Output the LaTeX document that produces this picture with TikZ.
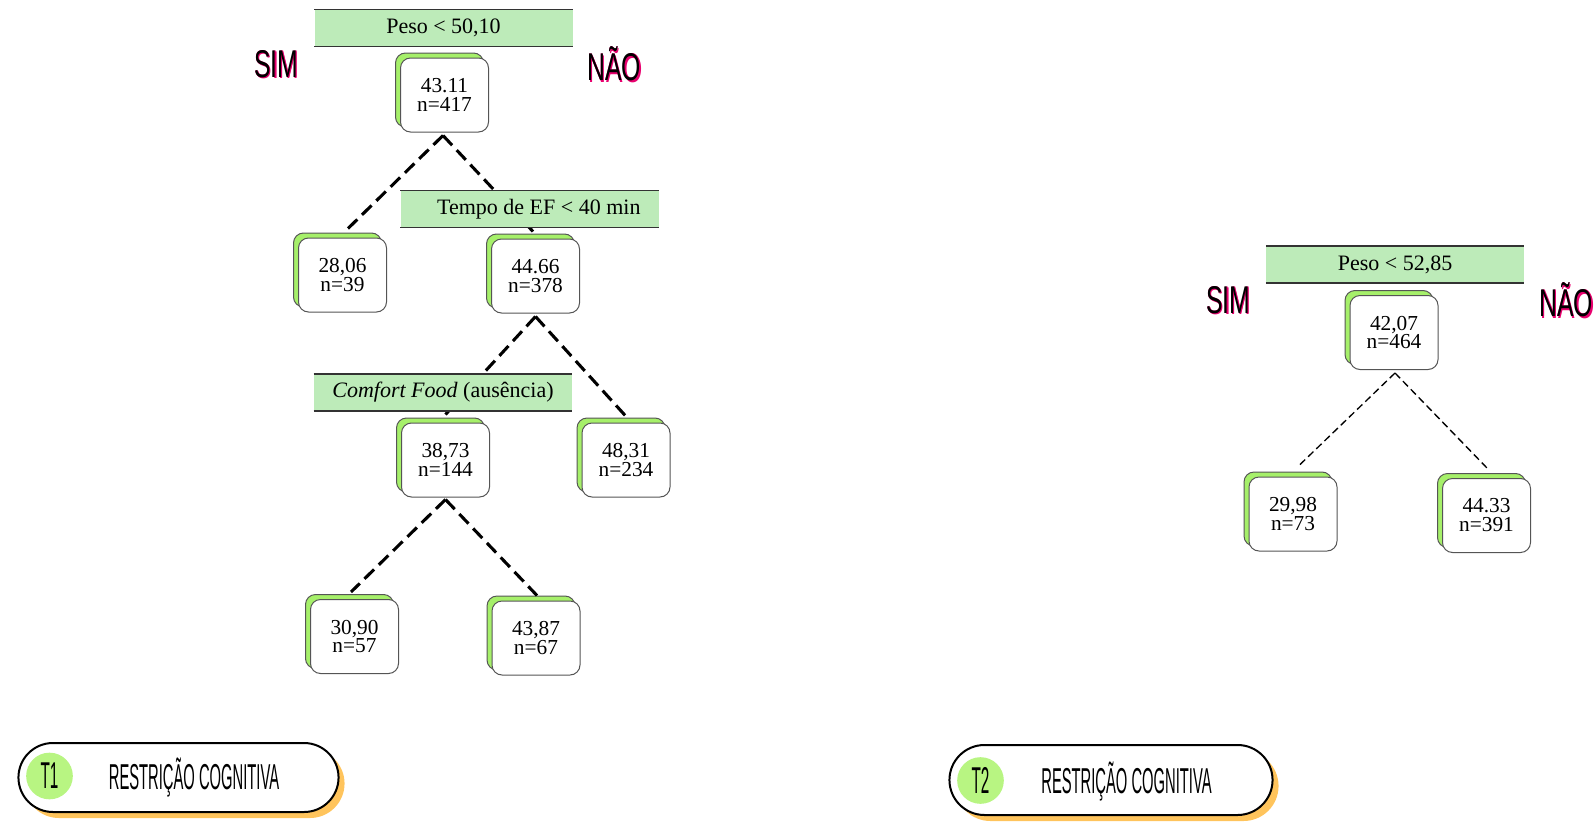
\documentclass[tikz,border=0pt]{standalone}
\usepackage{fontspec}
\setmainfont{Liberation Serif}
\newfontfamily\sealfont[FakeStretch=0.64]{Liberation Sans}
\newfontfamily\handfont[FakeStretch=0.41]{Liberation Sans}
\usetikzlibrary{shapes.misc,shadows,calc}

\definecolor{bandgreen}{HTML}{BDEBB9}
\definecolor{boxgreen}{HTML}{A6F06A}
\definecolor{dotgreen}{HTML}{B8F582}
\definecolor{pillshade}{HTML}{FFC45C}
\definecolor{boxedge}{HTML}{555555}
\definecolor{yespink}{HTML}{E8006E}

\tikzset{
  leaf/.style={draw=boxedge, line width=0.75pt, fill=white, rounded corners=7.5pt,
    minimum width=66pt, minimum height=55.5pt, align=center, inner sep=0pt,
    font=\fontsize{16}{14.2}\selectfont,
    general shadow={fill=boxgreen, draw=boxedge, line width=0.75pt,
      shadow xshift=-3.75pt, shadow yshift=3.75pt}},
  band/.style={fill=bandgreen, minimum width=193.5pt, minimum height=27.5pt,
    inner sep=0pt, font=\fontsize{16.5}{18}\selectfont},
  bandrule/.style={draw=black!80, line width=1.1pt},
  cut/.style={line width=2.3pt, dash pattern=on 10pt off 5pt},
  thincut/.style={line width=1pt, dash pattern=on 5.5pt off 3pt},
  side/.style={font=\sealfont\fontsize{29}{30}\selectfont, inner sep=0pt},
  pill/.style={shape=rounded rectangle, draw=black, line width=1.5pt, fill=white,
    general shadow={fill=pillshade, shadow xshift=4.5pt, shadow yshift=-4.5pt}},
  tag/.style={circle, fill=dotgreen, minimum size=35pt, inner sep=0pt,
    font=\handfont\fontsize{28}{30}\selectfont},
  caption/.style={font=\handfont\fontsize{27}{29}\selectfont, inner sep=0pt}
}

\newcommand{\sidelabel}[3]{%
  \node[side, text=yespink] at ($(#1)+(1.5,1.5)$) {#3};
  \node[side, text=yespink] at ($(#1)+(0.8,0)$) {#3};
  \node[side] (#2) at (#1) {#3};}

\begin{document}
\begin{tikzpicture}[x=0.75pt, y=-0.75pt]
\useasboundingbox (0,0) rectangle (1595,821);

% ---------- tree T1 ----------
\node[leaf] (A) at (444.5,95) {43.11\\n=417};
\node[leaf] (B) at (342.5,275) {28,06\\n=39};
\node[leaf] (C) at (535.5,276) {44.66\\n=378};
\node[leaf] (D) at (445.5,460) {38,73\\n=144};
\node[leaf] (E) at (626,460) {48,31\\n=234};
\node[leaf] (F) at (354.5,636.5) {30,90\\n=57};
\node[leaf] (G) at (536,638) {43,87\\n=67};

\draw[cut] ($(A.south)+(-1.5,3)$) -- ($(B.north)+(5.5,-9)$);
\draw[cut] ($(A.south)+(-1.5,3)$) -- ($(C.north)+(-2.5,-7)$);
\draw[cut] ($(C.south)+(0,3)$) -- ($(D.north)+(0,-8)$);
\draw[cut] ($(C.south)+(0,3)$) -- ($(E.north)+(1,-5)$);
\draw[cut] ($(D.south)+(0,2)$) -- ($(F.north)+(-3.5,-7)$);
\draw[cut] ($(D.south)+(0,2)$) -- ($(G.north)+(1,-5)$);

\node[band] (P1) at (443.5,28) {Peso < 50,10};
\node[band] (P2) at (529.5,209) {\hspace{14pt}Tempo de EF < 40 min};
\node[band] (P3) at (443,392.5) {\textit{Comfort Food} (ausência)};
\foreach \b in {P1,P2,P3} {
  \draw[bandrule] (\b.north west) -- (\b.north east);
  \draw[bandrule] (\b.south west) -- (\b.south east);
}

\sidelabel{276,64}{S1}{SIM}
\sidelabel{614,64}{N1}{NÃO}

% ---------- tree T2 ----------
\node[leaf] (H) at (1394,332.5) {42,07\\n=464};
\node[leaf] (I) at (1293,514) {29,98\\n=73};
\node[leaf] (J) at (1486.5,515.5) {44.33\\n=391};

\draw[thincut] ($(H.south)+(1,3)$) -- ($(I.north)+(6,-11)$);
\draw[thincut] ($(H.south)+(1,3)$) -- ($(J.north)+(0.5,-10)$);

\node[band] (P4) at (1395,264.5) {Peso < 52,85};
\draw[bandrule] (P4.north west) -- (P4.north east);
\draw[bandrule] (P4.south west) -- (P4.south east);

\sidelabel{1228,300}{S2}{SIM}
\sidelabel{1566,300}{N2}{NÃO}

% ---------- titles ----------
\node[pill, minimum width=246.75pt, minimum height=51.75pt] (L1) at (178.5,777.5) {};
\node[tag] (T1) at (49.5,776) {T1};
\node[caption] (C1) at (194,778) {RESTRIÇÃO COGNITIVA};

\node[pill, minimum width=249pt, minimum height=52.5pt] (L2) at (1111,780) {};
\node[tag] (T2) at (980.5,780.5) {T2};
\node[caption] (C2) at (1126.5,782) {RESTRIÇÃO COGNITIVA};
\end{tikzpicture}
\end{document}
